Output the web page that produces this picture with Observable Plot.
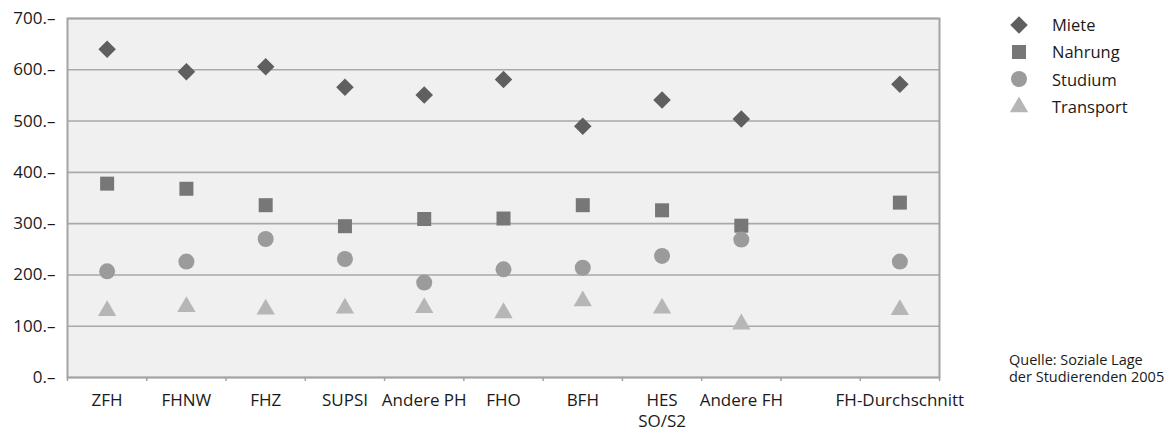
<!DOCTYPE html>
<html><head><meta charset="utf-8">
<script src="https://cdn.jsdelivr.net/npm/d3@7"></script>
<script src="https://cdn.jsdelivr.net/npm/@observablehq/plot@0.6"></script>
<style>
body{margin:0;background:#fff;font-family:"Open Sans",sans-serif;}
#wrap{position:relative;width:1168px;height:432px;}
#legend{position:absolute;left:1008px;top:11px;font-size:16.5px;color:#1a1a1a}
.item{display:flex;align-items:center;height:27.3px}
.item svg{margin-right:22px;flex:none}
#caption{position:absolute;left:1009px;top:351px;font-size:14.5px;line-height:17px;color:#1a1a1a;white-space:nowrap}
</style></head><body>
<div id="wrap"><div id="chart"></div><div id="legend"></div><div id="caption">Quelle: Soziale Lage<br>der Studierenden 2005</div></div>
<script>
const categories = ["ZFH","FHNW","FHZ","SUPSI","Andere PH","FHO","BFH","HES SO/S2","Andere FH","","FH-Durchschnitt"];
const miete     = [640, 596, 606, 566, 551, 581, 490, 541, 504, null, 572];
const nahrung   = [378, 368, 336, 295, 309, 310, 336, 326, 296, null, 341];
const studium   = [207, 226, 270, 231, 185, 211, 214, 237, 269, null, 226];
const transport = [130, 138, 133, 135, 136, 126, 149, 135, 104, null, 132];
const yTicks = [0, 100, 200, 300, 400, 500, 600, 700];

const series = [
  {name: "Miete", values: miete, symbol: "diamond2", d3sym: d3.symbolDiamond2, color: "#5f5f5f", r: 7.9},
  {name: "Nahrung", values: nahrung, symbol: "square", d3sym: d3.symbolSquare, color: "#777777", r: 7.9},
  {name: "Studium", values: studium, symbol: "circle", d3sym: d3.symbolCircle, color: "#9b9b9b", r: 8},
  {name: "Transport", values: transport, symbol: "triangle", d3sym: d3.symbolTriangle, color: "#b6b6b6", r: 6.8}
];

const bandEdges = d3.range(categories.length + 1);
const bandCenters = categories.map((c, i) => i + 0.5);

const marks = [
  Plot.frame({fill: "#eff0ef", stroke: null}),
  Plot.gridY(yTicks, {stroke: "#a9a9a9", strokeOpacity: 1, strokeWidth: 1.6}),
  Plot.frame({stroke: "#a3a3a3", strokeWidth: 2}),
  Plot.axisY(yTicks, {tickSize: 0, tickPadding: 12, tickFormat: d => d + ".–", fontSize: 17, fill: "#1a1a1a", label: null}),
  Plot.axisX(bandEdges, {tickSize: 4, tickFormat: () => "", stroke: "#a3a3a3", strokeWidth: 1.5, label: null}),
  Plot.axisX(bandCenters, {tickSize: 0, tickPadding: 13, tickFormat: (d) => categories[Math.floor(d)].replace("HES SO/S2", "HES\nSO/S2"), fontSize: 17, fill: "#1a1a1a", lineHeight: 1.27, label: null})
];
for (const s of series) {
  const data = categories.map((c, i) => ({x: i + 0.5, y: s.values[i]})).filter(d => d.y != null);
  marks.push(Plot.dot(data, {x: "x", y: "y", symbol: s.symbol, r: s.r, fill: s.color, stroke: null}));
}

const chart = Plot.plot({
  width: 1168, height: 432,
  marginLeft: 67, marginRight: 229, marginTop: 18, marginBottom: 55,
  style: {fontFamily: "'Open Sans', sans-serif", background: "transparent", overflow: "visible"},
  x: {domain: [0, categories.length], axis: null},
  y: {domain: [0, 700], axis: null},
  marks
});
document.getElementById("chart").appendChild(chart);

const legend = d3.select("#legend");
for (const s of series) {
  const item = legend.append("div").attr("class", "item");
  const svg = item.append("svg").attr("width", 22).attr("height", 22);
  svg.append("path").attr("transform", "translate(11,11)")
    .attr("d", d3.symbol(s.d3sym, Math.PI * s.r * s.r)()).attr("fill", s.color);
  item.append("span").text(s.name);
}
</script>
</body></html>
